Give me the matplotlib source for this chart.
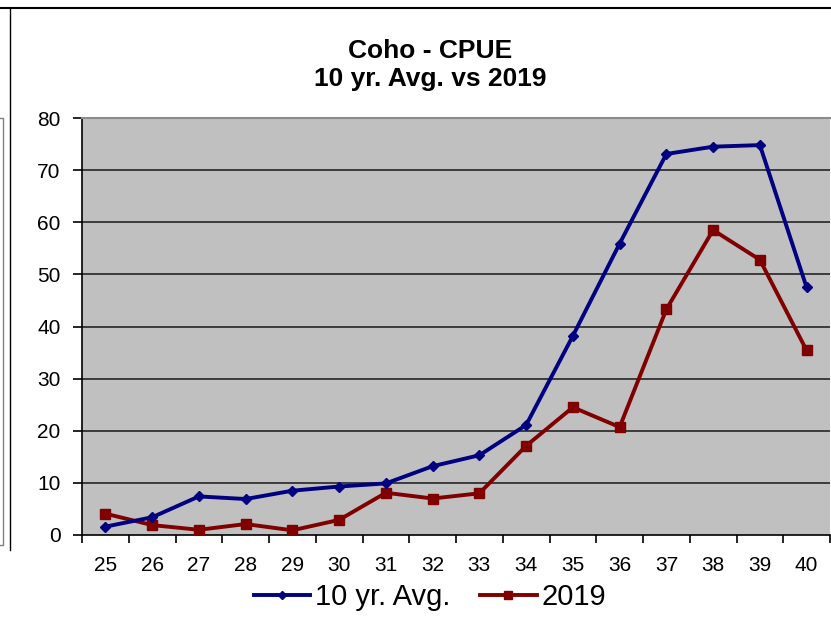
import numpy as np
import matplotlib
matplotlib.use("Agg")
import matplotlib.pyplot as plt
from matplotlib.lines import Line2D
from matplotlib.ticker import FixedLocator, NullFormatter

# ================= DATA =================
weeks = ["25", "26", "27", "28", "29", "30", "31", "32",
         "33", "34", "35", "36", "37", "38", "39", "40"]
avg_10yr = [1.6, 3.4, 7.4, 6.9, 8.5, 9.3, 9.9, 13.2,
            15.3, 21.1, 38.2, 55.9, 73.1, 74.5, 74.8, 47.5]
cpue_2019 = [4.1, 1.9, 1.0, 2.1, 0.9, 2.9, 8.1, 7.0,
             8.0, 17.1, 24.5, 20.7, 43.3, 58.5, 52.8, 35.4]
y_ticks = [0, 10, 20, 30, 40, 50, 60, 70, 80]
# ========================================

W, H = 831, 626
plt.rcParams['font.family'] = ['Liberation Sans', 'DejaVu Sans']

fig = plt.figure(figsize=(W / 100, H / 100), dpi=100)
ax = fig.add_axes([82 / W, 1 - 535 / H, (830 - 82) / W, (535 - 118) / H])

x = np.arange(len(weeks))
ax.set_facecolor("#c0c0c0")
ax.plot(x, avg_10yr, color="#000080", lw=2.8, marker="D", ms=5,
        label="10 yr. Avg.", zorder=4)
ax.plot(x, cpue_2019, color="#800000", lw=2.8, marker="s", ms=7,
        label="2019", zorder=3)

ax.set_xlim(-0.5, len(weeks) - 0.5)
ax.set_ylim(0, 80)
ax.set_yticks(y_ticks)
ax.set_yticklabels([str(v) for v in y_ticks], fontsize=15)
for v in y_ticks[1:-1]:
    ax.axhline(v, color="#303030", lw=1.3, zorder=1)

ax.set_xticks(x)
ax.set_xticklabels(weeks, fontsize=15)
ax.tick_params(axis="x", which="major", length=0, pad=15)
ax.xaxis.set_minor_locator(FixedLocator(np.arange(-0.5, len(weeks), 1.0)))
ax.xaxis.set_minor_formatter(NullFormatter())
ax.tick_params(axis="x", which="minor", length=6, width=1.2, color="black")
ax.tick_params(axis="y", length=6.5, width=1.2, pad=9, color="black")

ax.spines["right"].set_visible(False)
ax.spines["top"].set_color("#8c8c8c")
ax.spines["top"].set_linewidth(1.5)
ax.spines["left"].set_linewidth(1.2)
ax.spines["bottom"].set_linewidth(1.2)

fig.text(430 / W, 1 - 51 / H, "Coho - CPUE", ha="center", va="center",
         fontsize=19, fontweight="bold")
fig.text(430 / W, 1 - 79 / H, "10 yr. Avg. vs 2019", ha="center", va="center",
         fontsize=19, fontweight="bold")

fig.legend(loc="center", bbox_to_anchor=(430 / W, 1 - 597 / H), ncol=2,
           frameon=False, fontsize=21, handlelength=1.95, handletextpad=0.17,
           columnspacing=1.0, markerscale=0.85)

# screenshot frame lines
fig.add_artist(Line2D([0, 1], [1 - 8 / H, 1 - 8 / H], color="black", lw=1.5))
fig.add_artist(Line2D([10 / W, 10 / W], [1 - 8 / H, 1 - 550 / H], color="black", lw=1.0))
fig.add_artist(Line2D([0, 3 / W, 3 / W, 0], [1 - 118 / H, 1 - 118 / H, 1 - 545 / H, 1 - 545 / H],
                      color="#808080", lw=1.0))

fig.savefig("out.png", dpi=100)
